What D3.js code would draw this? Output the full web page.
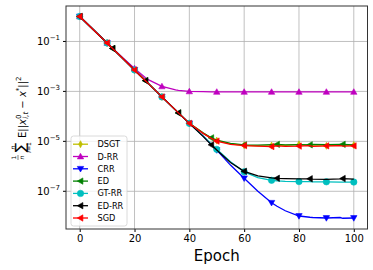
<!DOCTYPE html>
<html>
<head>
<meta charset="utf-8">
<script src="https://cdn.jsdelivr.net/npm/d3@7"></script>
<style>
  body { margin: 0; background: #fff; }
  svg { display: block; font-family: "DejaVu Sans", sans-serif; }
</style>
</head>
<body>
<svg id="chart" width="373" height="270"></svg>
<script>
// epochs where values were read (log10 of the error)
const epochs = [0, 5, 10, 12, 15, 20, 24, 25, 30, 35, 36, 40, 45, 48, 50, 55, 60, 65, 70, 72, 75, 80, 84, 85, 90, 95, 96, 100];

const dsgtLog = [0, -0.53, -1.06, -1.28, -1.6, -2.14, -2.57, -2.68, -3.22, -3.75, -3.86, -4.28, -4.67, -4.87, -4.97, -5.1, -5.16, -5.18, -5.17, -5.15, -5.16, -5.12, -5.16, -5.17, -5.18, -5.15, -5.16, -5.15];
const drrLog  = [0, -0.53, -1.06, -1.27, -1.58, -2.08, -2.45, -2.53, -2.8, -2.94, -2.96, -3.0, -3.01, -3.02, -3.02, -3.02, -3.02, -3.02, -3.02, -3.02, -3.02, -3.02, -3.02, -3.02, -3.02, -3.02, -3.02, -3.02];
const crrLog  = [0, -0.53, -1.06, -1.28, -1.6, -2.14, -2.57, -2.68, -3.22, -3.75, -3.86, -4.28, -4.78, -5.13, -5.35, -5.95, -6.48, -7.0, -7.46, -7.6, -7.78, -7.99, -8.04, -8.05, -8.07, -8.05, -8.08, -8.07];
const edLog   = [0, -0.53, -1.06, -1.28, -1.6, -2.14, -2.57, -2.68, -3.22, -3.75, -3.86, -4.28, -4.66, -4.86, -4.95, -5.08, -5.14, -5.15, -5.13, -5.12, -5.14, -5.13, -5.14, -5.12, -5.13, -5.12, -5.12, -5.14];
const gtrrLog = [0, -0.53, -1.06, -1.28, -1.6, -2.14, -2.57, -2.68, -3.22, -3.75, -3.86, -4.28, -4.78, -5.1, -5.32, -5.82, -6.22, -6.45, -6.56, -6.58, -6.6, -6.61, -6.61, -6.62, -6.62, -6.63, -6.63, -6.63];
const edrrLog = [0, -0.53, -1.06, -1.28, -1.6, -2.14, -2.57, -2.68, -3.22, -3.75, -3.86, -4.28, -4.8, -5.14, -5.35, -5.85, -6.2, -6.38, -6.46, -6.48, -6.49, -6.5, -6.5, -6.51, -6.52, -6.5, -6.49, -6.51];
const sgdLog  = [0, -0.53, -1.06, -1.28, -1.6, -2.14, -2.57, -2.68, -3.22, -3.75, -3.86, -4.28, -4.68, -4.88, -4.99, -5.12, -5.17, -5.19, -5.21, -5.18, -5.2, -5.19, -5.17, -5.2, -5.18, -5.17, -5.19, -5.18];

const names   = ["DSGT", "D-RR", "CRR", "ED", "GT-RR", "ED-RR", "SGD"];
const colors  = ["#bfbf00", "#bf00bf", "#0000ff", "#008000", "#00bfbf", "#000000", "#ff0000"];
const shapes  = ["thin_diamond", "up", "down", "left", "circle", "left", "left"];
const markStep = [10, 10, 10, 12, 10, 12, 10];

const xTicks = [0, 20, 40, 60, 80, 100];
const yTickExps = [-1, -3, -5, -7];

const allLogs = [dsgtLog, drrLog, crrLog, edLog, gtrrLog, edrrLog, sgdLog];

const series = names.map((name, i) => ({
    name: name,
    color: colors[i],
    shape: shapes[i],
    step: markStep[i],
    values: epochs.map((e, j) => ({ epoch: e, value: Math.pow(10, allLogs[i][j]) }))
}));

const margin = { left: 66, top: 6, right: 5.5, bottom: 41 };
const width = 373, height = 270;
const svg = d3.select("#chart");

const x = d3.scaleLinear().domain([-5, 105]).range([margin.left, width - margin.right]);
const y = d3.scaleLog().domain([Math.pow(10, 0.42), Math.pow(10, -8.51)]).range([margin.top, height - margin.bottom]);

// grid
const grid = svg.append("g");
grid.selectAll(".gx").data(xTicks).enter().append("line")
    .attr("x1", d => x(d)).attr("x2", d => x(d))
    .attr("y1", margin.top).attr("y2", height - margin.bottom)
    .attr("stroke", "#b0b0b0").attr("stroke-width", 0.8);
grid.selectAll(".gy").data(yTickExps).enter().append("line")
    .attr("x1", margin.left).attr("x2", width - margin.right)
    .attr("y1", d => y(Math.pow(10, d))).attr("y2", d => y(Math.pow(10, d)))
    .attr("stroke", "#b0b0b0").attr("stroke-width", 0.8);

// x axis
const xAxis = svg.append("g")
    .attr("transform", `translate(0,${height - margin.bottom})`)
    .call(d3.axisBottom(x).tickValues(xTicks).tickSize(3).tickPadding(3).tickFormat(d3.format("d")));
xAxis.select(".domain").remove();
xAxis.selectAll("text").attr("font-size", 10).attr("fill", "#000").attr("font-family", "DejaVu Sans");

// y axis ticks with 10^n labels
const yAxis = svg.append("g");
yAxis.selectAll("line").data(yTickExps).enter().append("line")
    .attr("x1", margin.left - 3).attr("x2", margin.left)
    .attr("y1", d => y(Math.pow(10, d))).attr("y2", d => y(Math.pow(10, d)))
    .attr("stroke", "#000").attr("stroke-width", 1);
const yl = yAxis.selectAll("text").data(yTickExps).enter().append("text")
    .attr("x", margin.left - 6)
    .attr("y", d => y(Math.pow(10, d)) + 3.5)
    .attr("text-anchor", "end")
    .attr("font-size", 10);
yl.append("tspan").text("10");
yl.append("tspan").attr("dy", -4.5).attr("font-size", 7).text(d => "\u2212" + (-d));

// lines
const line = d3.line().x(d => x(d.epoch)).y(d => y(d.value));

function markerPath(shape, r) {
    if (shape === "circle") return d3.symbol(d3.symbolCircle, Math.PI * r * r)();
    if (shape === "thin_diamond") return `M0,${-r * 1.1}L${r * 0.6},0L0,${r * 1.1}L${-r * 0.6},0Z`;
    if (shape === "up") return `M0,${-r}L${r},${r * 0.75}L${-r},${r * 0.75}Z`;
    if (shape === "down") return `M0,${r}L${r},${-r * 0.75}L${-r},${-r * 0.75}Z`;
    return `M${-r},0L${r * 0.75},${-r}L${r * 0.75},${r}Z`;
}

const plot = svg.append("g");
series.forEach(s => {
    plot.append("path")
        .datum(s.values)
        .attr("d", line)
        .attr("fill", "none")
        .attr("stroke", s.color)
        .attr("stroke-width", 1.3);
    plot.selectAll(null)
        .data(s.values.filter(d => d.epoch % s.step === 0))
        .enter().append("path")
        .attr("transform", d => `translate(${x(d.epoch)},${y(d.value)})`)
        .attr("d", markerPath(s.shape, 3.2))
        .attr("fill", s.color)
        .attr("stroke", s.color)
        .attr("stroke-width", 0.6);
});

// frame
svg.append("rect")
    .attr("x", margin.left).attr("y", margin.top)
    .attr("width", width - margin.left - margin.right)
    .attr("height", height - margin.top - margin.bottom)
    .attr("fill", "none").attr("stroke", "#333").attr("stroke-width", 1);

// legend
const legend = svg.append("g").attr("transform", "translate(71,136)");
legend.append("rect")
    .attr("width", 56).attr("height", 90).attr("rx", 2.5)
    .attr("fill", "#fff").attr("fill-opacity", 0.8)
    .attr("stroke", "#d0d0d0").attr("stroke-width", 0.8);
series.forEach((s, i) => {
    const g = legend.append("g").attr("transform", `translate(0,${8.2 + i * 12.3})`);
    g.append("line").attr("x1", 2).attr("x2", 17).attr("stroke", s.color).attr("stroke-width", 1.3);
    g.append("path").attr("transform", "translate(9.5,0)").attr("d", markerPath(s.shape, 3.2))
        .attr("fill", s.color).attr("stroke", s.color).attr("stroke-width", 0.6);
    g.append("text").attr("x", 26.5).attr("y", 3).attr("font-size", 8.2).text(s.name);
});

// x label
svg.append("text")
    .attr("x", (margin.left + width - margin.right) / 2)
    .attr("y", 261)
    .attr("text-anchor", "middle")
    .attr("font-size", 15)
    .text("Epoch");

// y label (math-like)
const ylab = svg.append("g").attr("transform", "translate(0,117) rotate(-90)");
ylab.append("text").attr("x", -40.5).attr("y", 16).attr("text-anchor", "middle").attr("font-size", 6).text("1");
ylab.append("line").attr("x1", -43).attr("x2", -38).attr("y1", 18).attr("y2", 18).attr("stroke", "#000").attr("stroke-width", 0.5);
ylab.append("text").attr("x", -40.5).attr("y", 23.5).attr("text-anchor", "middle").attr("font-size", 6).attr("font-style", "italic").text("n");
ylab.append("text").attr("x", -30.5).attr("y", 15).attr("text-anchor", "middle").attr("font-size", 6).attr("font-style", "italic").text("n");
ylab.append("text").attr("x", -30.5).attr("y", 25).attr("text-anchor", "middle").attr("font-size", 14).text("\u2211");
ylab.append("text").attr("x", -30.5).attr("y", 30.5).attr("text-anchor", "middle").attr("font-size", 6)
    .html('<tspan font-style="italic">i</tspan>=1');
const main = ylab.append("text").attr("x", -21).attr("y", 25.5).attr("font-size", 10);
main.append("tspan").text("E||");
main.append("tspan").attr("font-style", "italic").text("x");
main.append("tspan").attr("font-size", 7).attr("dy", -4.5).text("0");
main.append("tspan").attr("font-size", 7).attr("font-style", "italic").attr("dx", -4.2).attr("dy", 7).text("i,t");
main.append("tspan").attr("dy", -2.5).text(" \u2212 ");
main.append("tspan").attr("font-style", "italic").text("x");
main.append("tspan").attr("font-size", 7).attr("dy", -4.5).text("*");
main.append("tspan").attr("dy", 4.5).text("||");
main.append("tspan").attr("font-size", 7).attr("dy", -4.5).text("2");
</script>
</body>
</html>
